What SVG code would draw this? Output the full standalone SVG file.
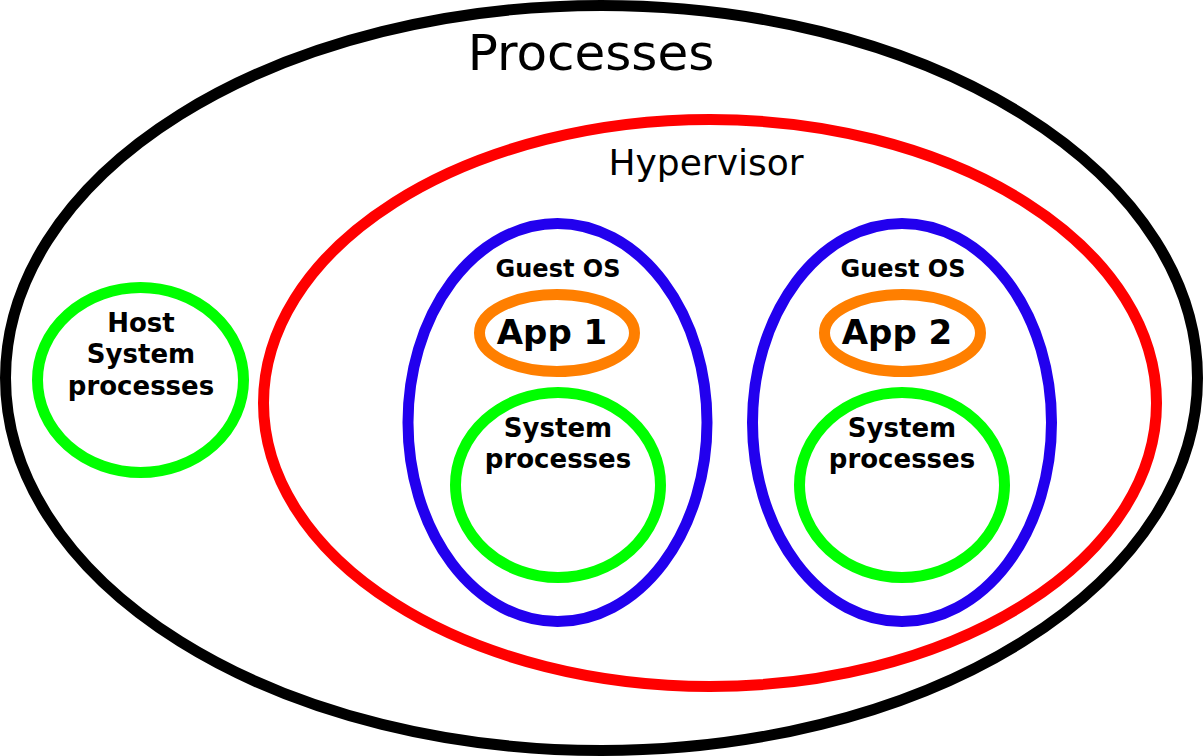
<svg xmlns="http://www.w3.org/2000/svg" width="1203" height="756" viewBox="0 0 1203 756">
<style>
.e{fill:none;stroke-width:11}
.k{stroke:#000}.r{stroke:#ff0000}.b{stroke:#2200ee}.o{stroke:#ff7f00}.g{stroke:#00ff00}
text{font-family:"DejaVu Sans",sans-serif;text-anchor:middle;fill:#000}
.bd{font-weight:bold}
</style>
<rect width="1203" height="756" fill="#fff"/>
<g id="processes">
<ellipse class="e k" cx="601.5" cy="378" rx="596" ry="372.5"/>
<text x="591" y="70" font-size="50">Processes</text>
</g>
<g id="host">
<ellipse class="e g" cx="140.5" cy="380" rx="103" ry="92.5"/>
<text class="bd" x="141" y="332" font-size="26">Host</text>
<text class="bd" x="141" y="363" font-size="26">System</text>
<text class="bd" x="141" y="395" font-size="26">processes</text>
</g>
<g id="hypervisor">
<ellipse class="e r" cx="710" cy="403" rx="446.5" ry="283.5"/>
<text x="706" y="175" font-size="36">Hypervisor</text>
</g>
<g id="guest1">
<ellipse class="e b" cx="557.5" cy="422.5" rx="149.5" ry="199"/>
<text class="bd" x="558" y="277" font-size="24">Guest OS</text>
</g>
<g id="app1">
<ellipse class="e o" cx="557" cy="333" rx="77.5" ry="38.5"/>
<text class="bd" x="552" y="344" font-size="34">App 1</text>
</g>
<g id="sys1">
<ellipse class="e g" cx="558" cy="485" rx="102.5" ry="92.5"/>
<text class="bd" x="558" y="437" font-size="26">System</text>
<text class="bd" x="558" y="468" font-size="26">processes</text>
</g>
<g id="guest2">
<ellipse class="e b" cx="902" cy="422.5" rx="149.5" ry="199"/>
<text class="bd" x="903" y="277" font-size="24">Guest OS</text>
</g>
<g id="app2">
<ellipse class="e o" cx="902.5" cy="333" rx="78" ry="38.5"/>
<text class="bd" x="897" y="344" font-size="34">App 2</text>
</g>
<g id="sys2">
<ellipse class="e g" cx="902" cy="485" rx="102.5" ry="92.5"/>
<text class="bd" x="902" y="437" font-size="26">System</text>
<text class="bd" x="902" y="468" font-size="26">processes</text>
</g>
<g id="connectors"></g>
</svg>
